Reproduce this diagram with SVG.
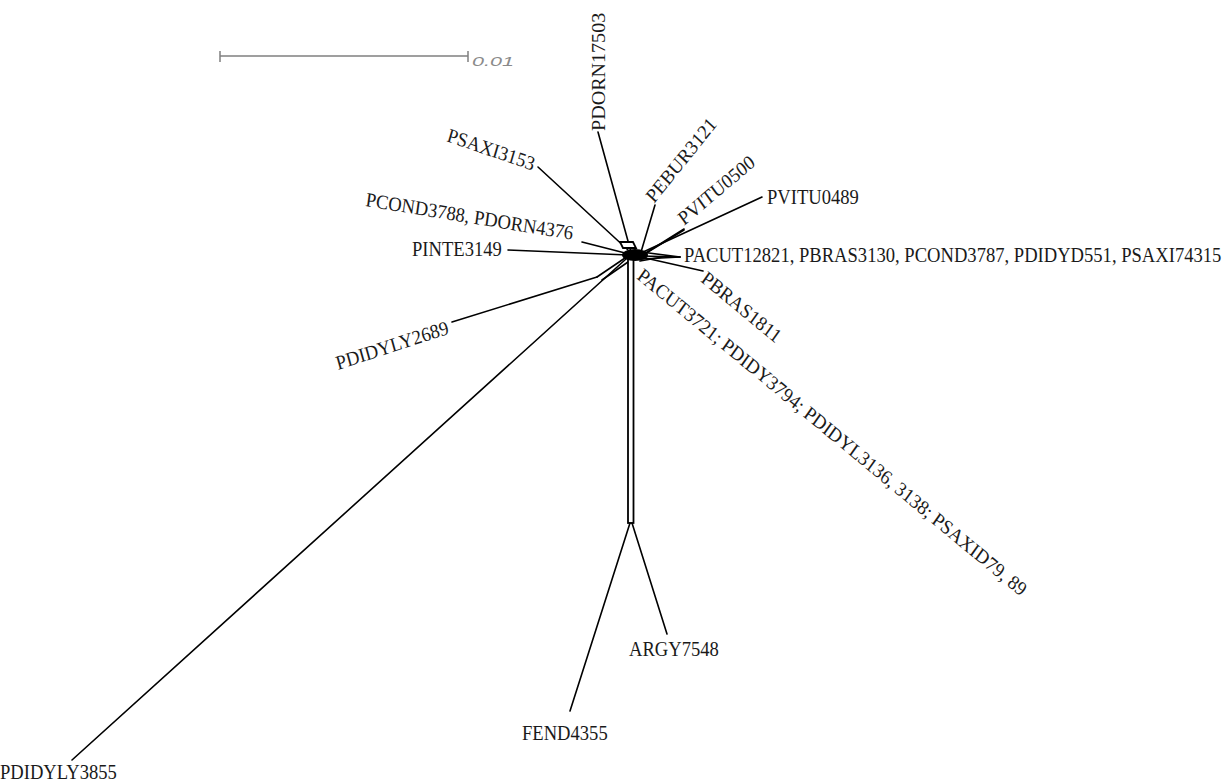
<svg xmlns="http://www.w3.org/2000/svg" width="1227" height="782" viewBox="0 0 1227 782">
<style>
.t{font-family:"Liberation Serif","Times New Roman",serif;font-size:18.6px;fill:#1a1a1a}
.e{stroke:#000;stroke-width:1.6;fill:none;stroke-linecap:round}
.d{stroke:#000;stroke-width:1.8;fill:#fff}
.sb{stroke:#808080;stroke-width:1.5;fill:none}
.sl{font-family:"Liberation Sans",Arial,sans-serif;font-style:italic;font-size:13.5px;fill:#8a8a8a}
</style>
<rect width="1227" height="782" fill="#fff"/>
<g id="scale">
<path class="sb" d="M220,56H468M220,51V62M468,51V62"/>
<text class="sl" x="472" y="65.5" textLength="42" lengthAdjust="spacingAndGlyphs">0.01</text>
</g>
<g id="connectors">
<line class="e" x1="598" y1="132" x2="631" y2="252"/>
<line class="e" x1="538" y1="167" x2="628" y2="250"/>
<line class="e" x1="582" y1="242" x2="629" y2="254"/>
<line class="e" x1="508" y1="250" x2="628" y2="255"/>
<line class="e" x1="655" y1="205" x2="641" y2="252"/>
<line class="e" x1="762" y1="197" x2="641" y2="253"/>
<line class="e" x1="641" y1="256" x2="684" y2="229"/>
<line class="e" x1="643" y1="255" x2="684" y2="230"/>
<line class="e" x1="680" y1="257" x2="641" y2="252"/>
<line class="e" x1="680" y1="257" x2="641" y2="256"/>
<line class="e" x1="680" y1="257" x2="642" y2="259"/>
<line class="e" x1="668" y1="256" x2="640" y2="261"/>
<line class="e" x1="703" y1="271" x2="641" y2="257"/>
<line class="e" x1="452" y1="322" x2="597" y2="277"/>
<line class="e" x1="597" y1="277" x2="625" y2="258"/>
<line class="e" x1="602" y1="280" x2="628" y2="262"/>
<line class="e" x1="72" y1="760" x2="626" y2="259"/>
<rect class="d" x="628" y="258" width="5.5" height="265"/>
<line class="e" x1="630" y1="523" x2="570" y2="711"/>
<line class="e" x1="632" y1="523" x2="667" y2="634"/>
<path class="d" d="M620,242 L633,242 L636,248 L623,248 Z"/>
<ellipse cx="635" cy="255" rx="13" ry="6" fill="#000"/>
</g>
<g id="n-PDORN17503"><text class="t" transform="translate(605,131) scale(1,1.08) rotate(-90)">PDORN17503</text></g>
<g id="n-PSAXI3153"><text class="t" transform="translate(446,141) scale(1,1.08) rotate(17.6)">PSAXI3153</text></g>
<g id="n-PCOND3788"><text class="t" transform="translate(365,206) scale(1,1.08) rotate(8.6)">PCOND3788, PDORN4376</text></g>
<g id="n-PINTE3149"><text class="t" transform="translate(412,256) scale(1,1.08)">PINTE3149</text></g>
<g id="n-PEBUR3121"><text class="t" transform="translate(654,204) scale(1,1.08) rotate(-49)">PEBUR3121</text></g>
<g id="n-PVITU0500"><text class="t" transform="translate(684,226) scale(1,1.08) rotate(-38)">PVITU0500</text></g>
<g id="n-PVITU0489"><text class="t" transform="translate(767,204) scale(1,1.08)">PVITU0489</text></g>
<g id="n-PACUT12821"><text class="t" transform="translate(684,262) scale(1,1.08)">PACUT12821, PBRAS3130, PCOND3787, PDIDYD551, PSAXI74315</text></g>
<g id="n-PBRAS1811"><text class="t" transform="translate(700,281) scale(1,1.08) rotate(37.5)">PBRAS1811</text></g>
<g id="n-PACUT3721"><text class="t" transform="translate(636,278) scale(1,1.08) rotate(37.5)">PACUT3721; PDIDY3794; PDIDYL3136, 3138; PSAXID79, 89</text></g>
<g id="n-PDIDYLY2689"><text class="t" transform="translate(338,370) scale(1,1.08) rotate(-16.8)">PDIDYLY2689</text></g>
<g id="n-PDIDYLY3855"><text class="t" transform="translate(0,779) scale(1,1.08)">PDIDYLY3855</text></g>
<g id="n-FEND4355"><text class="t" transform="translate(522,740) scale(1,1.08)">FEND4355</text></g>
<g id="n-ARGY7548"><text class="t" transform="translate(629,656) scale(1,1.08)">ARGY7548</text></g>
</svg>
